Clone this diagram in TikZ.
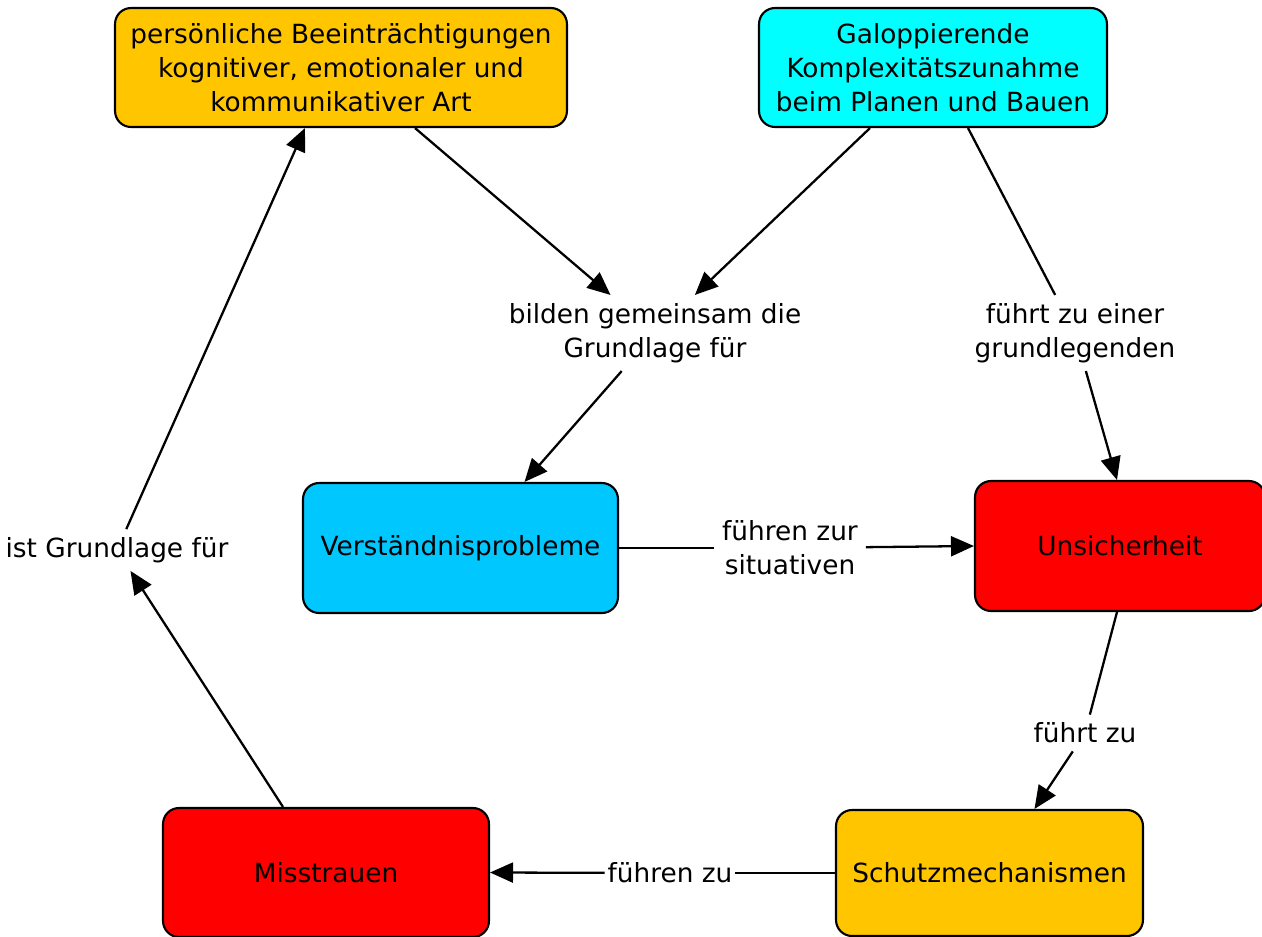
\documentclass[tikz,border=0pt]{standalone}
\usepackage{fontspec}
\setmainfont{DejaVu Sans}
\usetikzlibrary{arrows.meta,calc,positioning}
\definecolor{boxorange}{RGB}{255,198,0}
\definecolor{boxcyan}{RGB}{0,255,255}
\definecolor{boxblue}{RGB}{0,200,255}
\definecolor{boxred}{RGB}{255,0,0}
\tikzset{
    concept/.style={
           rectangle,
           rounded corners=0.32cm,
           draw=black, line width=1.2pt,
           align=center,
           inner sep=2pt,
           font=\fontsize{15}{19.5}\selectfont,
           },
    linkword/.style={
           align=center,
           inner sep=4pt,
           font=\fontsize{15}{19.5}\selectfont,
           },
}

\begin{document}
\begin{tikzpicture}[x=0.02cm,y=-0.02cm,line width=1.3pt,
                    >={Triangle[length=0.46cm,width=0.4cm]}]
  \useasboundingbox (0,0) rectangle (1262,937);

  \node[concept,fill=boxorange,minimum width=9.04cm,minimum height=2.38cm] (pers)   at (341,67.5)  {persönliche Beeinträchtigungen\\kognitiver, emotionaler und\\kommunikativer Art};
  \node[concept,fill=boxcyan,minimum width=6.96cm,minimum height=2.38cm]   (galopp) at (933,67.5)  {Galoppierende\\Komplexitätszunahme\\beim Planen und Bauen};
  \node[concept,fill=boxblue,minimum width=6.3cm,minimum height=2.6cm]     (verst)  at (460.5,548) {Verständnisprobleme};
  \node[concept,fill=boxred,minimum width=5.8cm,minimum height=2.6cm]      (unsich) at (1120,546)  {Unsicherheit};
  \node[concept,fill=boxorange,minimum width=6.14cm,minimum height=2.52cm] (schutz) at (989.5,873) {Schutzmechanismen};
  \node[concept,fill=boxred,minimum width=6.52cm,minimum height=2.58cm]    (miss)   at (326,872.5) {Misstrauen};

  \node[linkword] (bilden)   at (655,333) {bilden gemeinsam die\\Grundlage für};
  \node[linkword] (fuehrt1)  at (1075,333) {führt zu einer\\grundlegenden};
  \node[linkword] (fuehren1) at (790,548) {führen zur\\situativen};
  \node[linkword] (istgl)    at (117,550) {ist Grundlage für};
  \node[linkword] (fuehrt2)  at (1085,733) {führt zu};
  \node[linkword,inner sep=1pt] (fuehren2) at (670,873) {führen zu};

  \path ($(pers.south)+(74,0)$)    edge[->] (bilden)
        ($(galopp.south)+(-63,0)$) edge[->] (bilden)
        (bilden)                   edge[->] ($(verst.north)+(64,0)$)
        ($(galopp.south)+(35,0)$)  edge     (fuehrt1)
        (fuehrt1)                  edge[->] ($(unsich.north)+(-3,0)$)
        (verst.east)               edge     (fuehren1)
        (fuehren1)                 edge[->] (unsich.west)
        ($(unsich.south)+(-3,0)$)  edge     (fuehrt2)
        (fuehrt2)                  edge[->] ($(schutz.north)+(45,0)$)
        (schutz.west)              edge     (fuehren2)
        (fuehren2)                 edge[->] (miss.east)
        ($(miss.north)+(-43,0)$)   edge[->] (istgl)
        (istgl)                    edge[->] ($(pers.south)+(-36,0)$);
\end{tikzpicture}
\end{document}
